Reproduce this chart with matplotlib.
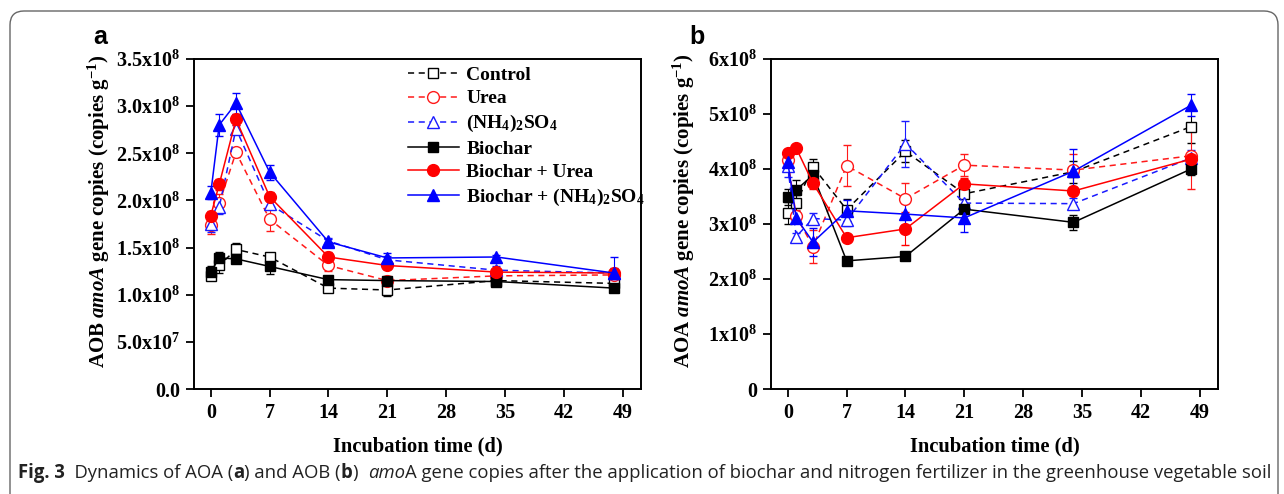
import matplotlib
matplotlib.use("Agg")
import matplotlib.pyplot as plt
import numpy as np
from matplotlib.patches import FancyBboxPatch
from matplotlib.transforms import IdentityTransform
from matplotlib.ticker import FixedLocator, FixedFormatter
from matplotlib.lines import Line2D

plt.rcParams['font.family'] = ['Liberation Serif', 'DejaVu Serif']
plt.rcParams['font.weight'] = 'bold'
plt.rcParams['mathtext.fontset'] = 'custom'
plt.rcParams['mathtext.rm'] = 'Liberation Serif:bold'
plt.rcParams['mathtext.bf'] = 'Liberation Serif:bold'
plt.rcParams['mathtext.it'] = 'Liberation Serif:italic:bold'
plt.rcParams['mathtext.default'] = 'rm'

# ---------------- data ----------------
days = [0, 1, 3, 7, 14, 21, 34, 48]
labels = ['Control', 'Urea', '(NH$_4$)$_2$SO$_4$', 'Biochar', 'Biochar + Urea',
          'Biochar + (NH$_4$)$_2$SO$_4$']

# Panel a: AOB (x1e8 copies g-1)
aob_control = [1.20, 1.31, 1.48, 1.40, 1.07, 1.05, 1.15, 1.12]
aob_urea = [1.74, 1.97, 2.51, 1.80, 1.31, 1.15, 1.20, 1.21]
aob_nh4 = [1.75, 1.93, 2.76, 1.96, 1.57, 1.37, 1.26, 1.23]
aob_biochar = [1.24, 1.39, 1.38, 1.30, 1.16, 1.15, 1.14, 1.07]
aob_bu = [1.84, 2.17, 2.86, 2.04, 1.40, 1.31, 1.24, 1.23]
aob_bn = [2.08, 2.80, 3.03, 2.30, 1.56, 1.39, 1.40, 1.23]
aob_control_err = [0.04, 0.08, 0.07, 0.04, 0.04, 0.06, 0.03, 0.05]
aob_urea_err = [0.10, 0.10, 0.05, 0.12, 0.06, 0.05, 0.03, 0.04]
aob_nh4_err = [0.08, 0.07, 0.04, 0.05, 0.03, 0.04, 0.04, 0.05]
aob_biochar_err = [0.06, 0.06, 0.03, 0.08, 0.04, 0.03, 0.02, 0.04]
aob_bu_err = [0.05, 0.06, 0.06, 0.05, 0.05, 0.04, 0.03, 0.04]
aob_bn_err = [0.07, 0.12, 0.11, 0.08, 0.03, 0.05, 0.02, 0.17]

# Panel b: AOA (x1e8 copies g-1)
aoa_control = [3.20, 3.38, 4.04, 3.26, 4.32, 3.55, 3.95, 4.77]
aoa_urea = [4.16, 3.14, 2.59, 4.06, 3.46, 4.07, 3.98, 4.24]
aoa_nh4 = [4.05, 2.77, 3.10, 3.07, 4.46, 3.38, 3.37, 4.20]
aoa_biochar = [3.49, 3.62, 3.89, 2.33, 2.41, 3.27, 3.03, 4.00]
aoa_bu = [4.29, 4.38, 3.74, 2.75, 2.91, 3.73, 3.60, 4.18]
aoa_bn = [4.12, 3.11, 2.67, 3.24, 3.18, 3.11, 3.96, 5.16]
aoa_control_err = [0.20, 0.15, 0.15, 0.20, 0.20, 0.20, 0.20, 0.30]
aoa_urea_err = [0.15, 0.12, 0.30, 0.37, 0.28, 0.20, 0.30, 0.60]
aoa_nh4_err = [0.20, 0.06, 0.10, 0.10, 0.42, 0.15, 0.10, 0.15]
aoa_biochar_err = [0.15, 0.18, 0.10, 0.03, 0.03, 0.03, 0.13, 0.10]
aoa_bu_err = [0.05, 0.05, 0.10, 0.05, 0.30, 0.10, 0.07, 0.10]
aoa_bn_err = [0.10, 0.10, 0.25, 0.20, 0.20, 0.25, 0.40, 0.20]

xticks = [0, 7, 14, 21, 28, 35, 42, 49]
a_yticks = [0, 0.5, 1.0, 1.5, 2.0, 2.5, 3.0, 3.5]
a_yticklabels = ['0.0', '5.0x10$^{7}$', '1.0x10$^{8}$', '1.5x10$^{8}$', '2.0x10$^{8}$',
                 '2.5x10$^{8}$', '3.0x10$^{8}$', '3.5x10$^{8}$']
b_yticks = [0, 1, 2, 3, 4, 5, 6]
b_yticklabels = ['0', '1x10$^{8}$', '2x10$^{8}$', '3x10$^{8}$', '4x10$^{8}$',
                 '5x10$^{8}$', '6x10$^{8}$']

styles = [
    dict(color='black', ls=(0, (4, 3)), marker='s', mfc='white'),
    dict(color='#ff1a1a', ls=(0, (4, 3)), marker='o', mfc='white'),
    dict(color='#1a1aff', ls=(0, (4, 3)), marker='^', mfc='white'),
    dict(color='black', ls='-', marker='s', mfc='black'),
    dict(color='#ff0000', ls='-', marker='o', mfc='#ff0000'),
    dict(color='#0000ff', ls='-', marker='^', mfc='#0000ff'),
]
msizes = {'s': 7.5, 'o': 8.5, '^': 8.5}

W, H = 1284, 494
fig = plt.figure(figsize=(W / 100, H / 100), dpi=100)
axA = fig.add_axes([194 / W, 1 - 389 / H, 447 / W, 330 / H])
axB = fig.add_axes([771 / W, 1 - 389 / H, 447 / W, 330 / H])


def draw(ax, series, errs):
    for vals, err, st, lab in zip(series, errs, styles, labels):
        ax.errorbar(days, vals, yerr=err, color=st['color'], ls=st['ls'],
                    lw=1.1, marker=st['marker'], ms=msizes[st['marker']],
                    mfc=st['mfc'], mec=st['color'], mew=1.0,
                    capsize=3, elinewidth=0.8, capthick=0.8, label=lab,
                    dash_capstyle='butt')


draw(axA, [aob_control, aob_urea, aob_nh4, aob_biochar, aob_bu, aob_bn],
     [aob_control_err, aob_urea_err, aob_nh4_err, aob_biochar_err, aob_bu_err, aob_bn_err])
draw(axB, [aoa_control, aoa_urea, aoa_nh4, aoa_biochar, aoa_bu, aoa_bn],
     [aoa_control_err, aoa_urea_err, aoa_nh4_err, aoa_biochar_err, aoa_bu_err, aoa_bn_err])

for ax, yt, ytl, ymax, lab, lx in [
        (axA, a_yticks, a_yticklabels, 3.5, 'AOB', -0.183),
        (axB, b_yticks, b_yticklabels, 6.0, 'AOA', -0.166)]:
    ax.set_xlim(-2, 51.2)
    ax.set_ylim(0, ymax)
    ax.xaxis.set_major_locator(FixedLocator(xticks))
    ax.set_xticklabels([str(t) for t in xticks])
    ax.yaxis.set_major_locator(FixedLocator(yt))
    ax.yaxis.set_major_formatter(FixedFormatter(ytl))
    ax.tick_params(direction='out', length=6, width=1.3, labelsize=14.5, pad=4)
    for s in ax.spines.values():
        s.set_linewidth(1.4)
    ax.set_xlabel('Incubation time (d)', fontsize=14.8, fontweight='bold', labelpad=10)
    ax.set_ylabel(lab + r' $\mathit{amoA}$ gene copies (copies g$^{-1}$)', fontsize=15,
                  fontweight='bold')
    ax.yaxis.set_label_coords(lx, 0.54)

handles = [Line2D([], [], color=st['color'], ls=st['ls'], lw=1.1, marker=st['marker'],
                  ms=msizes[st['marker']], mfc=st['mfc'], mec=st['color'], mew=1.0)
           for st in styles]
leg = axA.legend(handles=handles, labels=labels, loc='upper left',
                 bbox_to_anchor=(0.455, 1.01),
                 frameon=False, fontsize=14, handlelength=2.6, handletextpad=0.4,
                 labelspacing=0.3, borderaxespad=0.15)
for t in leg.get_texts():
    t.set_fontweight('bold')

fig.text(100 / W, 1 - 37 / H, 'a', fontsize=18, fontweight='bold',
         family=['Liberation Sans'], ha='center', va='center')
fig.text(697 / W, 1 - 37 / H, 'b', fontsize=18, fontweight='bold',
         family=['Liberation Sans'], ha='center', va='center')

# frame
fig.patches.append(FancyBboxPatch((10, -20), 1268, H - 11 + 20,
                                  boxstyle='round,pad=0,rounding_size=14',
                                  transform=IdentityTransform(), fill=False,
                                  ec='#666666', lw=1.0))

# caption (pieces with mixed styles)
pieces = [('Fig. 3', 'bold', 'normal'), ('  Dynamics of AOA (', 'normal', 'normal'),
          ('a', 'bold', 'normal'), (') and AOB (', 'normal', 'normal'),
          ('b', 'bold', 'normal'), (')  ', 'normal', 'normal'),
          ('amo', 'normal', 'italic'),
          ('A gene copies after the application of biochar and nitrogen fertilizer in the greenhouse vegetable soil',
           'normal', 'normal')]
renderer = fig.canvas.get_renderer()
target_w = 1275 - 18


def place(fs):
    x = 18
    texts = []
    for txt, wt, st in pieces:
        t = fig.text(x / W, 1 - 473 / H, txt, fontsize=fs, fontweight=wt, fontstyle=st,
                     family=['Open Sans'], ha='left', va='center', color='#222222')
        bb = t.get_window_extent(renderer)
        x += bb.width
        texts.append(t)
    return texts, x - 18


fs = 12.5
for _ in range(3):
    texts, total = place(fs)
    for t in texts:
        t.remove()
    fs *= target_w / total
place(fs)

fig.savefig('out.png', dpi=100)
